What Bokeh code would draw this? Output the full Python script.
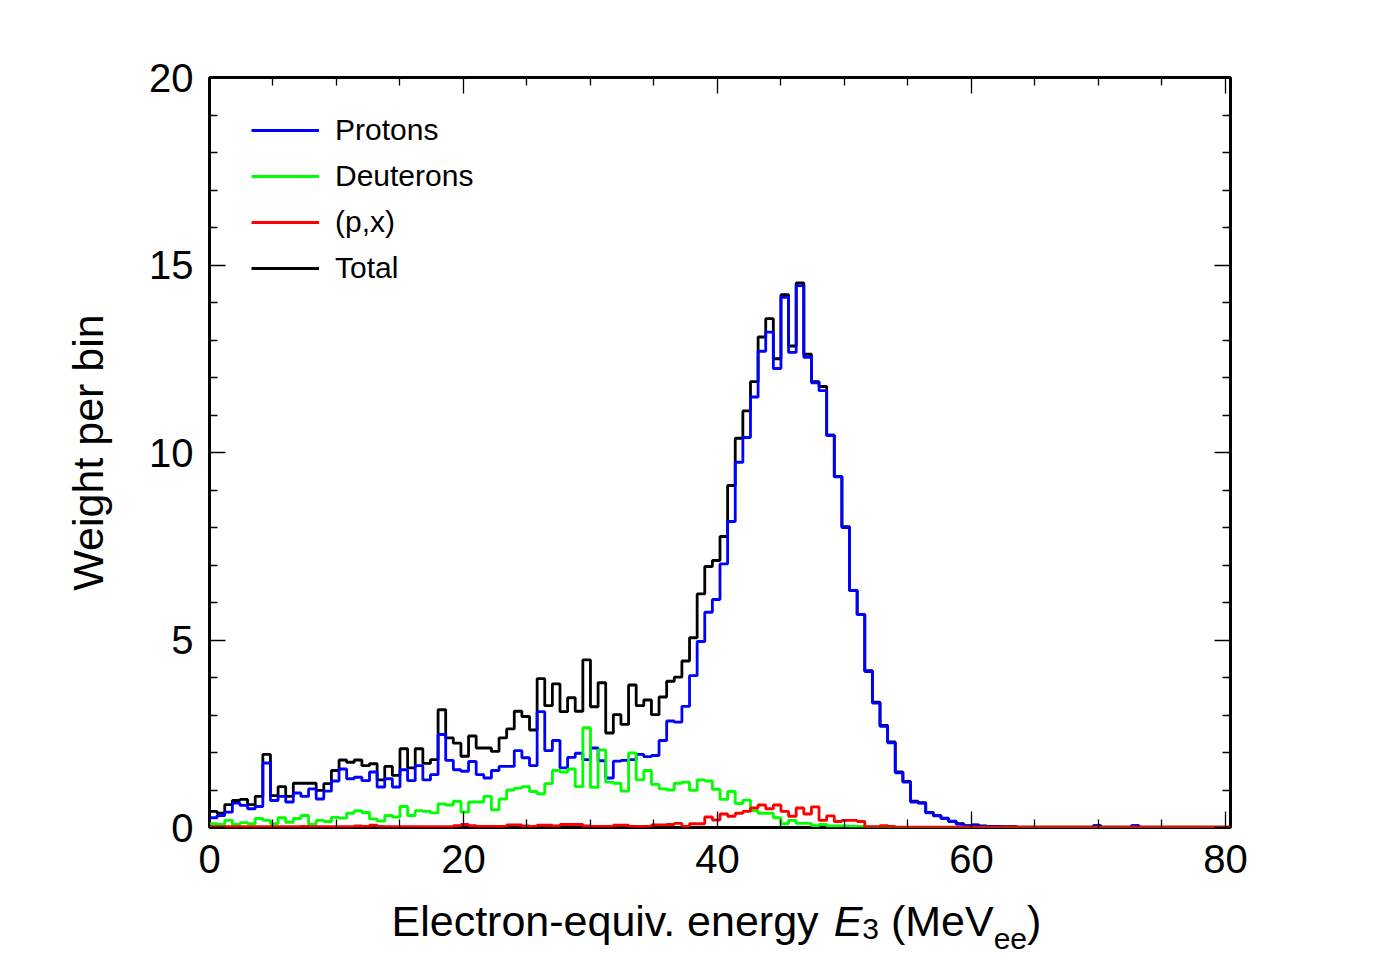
from bokeh.plotting import figure
from bokeh.layouts import column
from bokeh.models import (Range1d, FixedTicker, LinearAxis, Legend, LegendItem, Label)
from bokeh.embed import file_html
from bokeh.resources import INLINE

# ---------------- data (0.6 MeV bins from 0 to 80.4) ----------------
bin_width = 0.6
n_bins = 134
edges = [round(i * bin_width, 4) for i in range(n_bins + 1)]

protons = [
    0.26, 0.32, 0.41, 0.65, 0.59, 0.50, 0.56, 1.72, 0.72, 0.83,
    0.68, 0.92, 0.83, 1.03, 0.76, 0.97, 1.24, 1.56, 1.30, 1.34,
    1.25, 1.48, 1.08, 1.30, 1.08, 1.54, 1.25, 1.65, 1.27, 1.41,
    2.48, 1.79, 1.54, 1.50, 1.76, 1.41, 1.32, 1.52, 1.63, 1.63,
    2.05, 1.86, 1.65, 3.09, 2.05, 2.32, 1.59, 1.87, 1.98, 1.81,
    2.12, 1.78, 1.32, 1.77, 1.79, 1.81, 1.95, 1.89, 1.92, 2.32,
    2.84, 2.81, 3.23, 4.05, 4.96, 5.74, 6.08, 7.03, 8.16, 9.74,
    10.40, 11.48, 12.70, 13.21, 12.24, 14.14, 12.67, 14.45, 12.54, 11.86,
    11.65, 10.46, 9.35, 8.00, 6.32, 5.68, 4.16, 3.32, 2.70, 2.26,
    1.46, 1.21, 0.68, 0.65, 0.39, 0.31, 0.24, 0.16, 0.09, 0.04,
    0.06, 0.03, 0.02, 0.02, 0.01, 0.01, 0.00, 0.00, 0.00, 0.00,
    0.00, 0.00, 0.00, 0.00, 0.00, 0.00, 0.04, 0.00, 0.00, 0.00,
    0.00, 0.04, 0.00, 0.00, 0.00, 0.00, 0.00, 0.00, 0.00, 0.00,
    0.00, 0.00, 0.00, 0.00,
]

deuterons = [
    0.10, 0.08, 0.19, 0.08, 0.13, 0.10, 0.24, 0.19, 0.10, 0.26,
    0.14, 0.24, 0.32, 0.08, 0.19, 0.16, 0.27, 0.25, 0.38, 0.45,
    0.40, 0.23, 0.17, 0.32, 0.28, 0.56, 0.32, 0.45, 0.43, 0.39,
    0.63, 0.60, 0.70, 0.41, 0.68, 0.68, 0.83, 0.47, 0.76, 1.00,
    1.05, 1.09, 0.96, 0.90, 1.17, 1.52, 1.48, 1.56, 1.09, 2.66,
    1.07, 2.07, 1.21, 1.18, 0.97, 1.99, 1.27, 1.52, 1.15, 1.03,
    1.00, 1.18, 1.21, 0.99, 1.27, 1.24, 1.02, 0.75, 0.96, 0.64,
    0.73, 0.45, 0.38, 0.38, 0.26, 0.10, 0.19, 0.11, 0.11, 0.05,
    0.08, 0.04, 0.04, 0.04, 0.03, 0.03, 0.01, 0.01, 0.02, 0.00,
    0.00, 0.00, 0.00, 0.00, 0.00, 0.00, 0.00, 0.00, 0.00, 0.00,
    0.00, 0.00, 0.00, 0.00, 0.00, 0.00, 0.00, 0.00, 0.00, 0.00,
    0.00, 0.00, 0.00, 0.00, 0.00, 0.00, 0.00, 0.00, 0.00, 0.00,
    0.00, 0.00, 0.00, 0.00, 0.00, 0.00, 0.00, 0.00, 0.00, 0.00,
    0.00, 0.00, 0.00, 0.00,
]

px_reaction = [
    0.02, 0.02, 0.02, 0.02, 0.02, 0.02, 0.02, 0.02, 0.02, 0.02,
    0.02, 0.02, 0.03, 0.02, 0.02, 0.02, 0.02, 0.02, 0.02, 0.04,
    0.03, 0.06, 0.03, 0.02, 0.02, 0.02, 0.02, 0.02, 0.02, 0.02,
    0.02, 0.02, 0.05, 0.08, 0.05, 0.03, 0.03, 0.03, 0.03, 0.07,
    0.07, 0.04, 0.03, 0.06, 0.06, 0.04, 0.08, 0.08, 0.08, 0.04,
    0.03, 0.03, 0.03, 0.06, 0.06, 0.03, 0.03, 0.03, 0.07, 0.07,
    0.08, 0.11, 0.03, 0.10, 0.10, 0.28, 0.20, 0.36, 0.30, 0.38,
    0.43, 0.52, 0.60, 0.50, 0.60, 0.43, 0.30, 0.52, 0.36, 0.55,
    0.19, 0.31, 0.16, 0.19, 0.19, 0.16, 0.02, 0.02, 0.05, 0.03,
    0.01, 0.01, 0.01, 0.01, 0.01, 0.01, 0.01, 0.01, 0.01, 0.01,
    0.01, 0.01, 0.01, 0.01, 0.01, 0.01, 0.01, 0.01, 0.01, 0.01,
    0.01, 0.01, 0.01, 0.01, 0.01, 0.01, 0.01, 0.01, 0.01, 0.01,
    0.01, 0.01, 0.01, 0.01, 0.01, 0.01, 0.01, 0.01, 0.01, 0.01,
    0.01, 0.01, 0.01, 0.01,
]

total = [
    0.43, 0.38, 0.61, 0.72, 0.75, 0.61, 0.83, 1.95, 0.85, 1.09,
    0.83, 1.18, 1.18, 1.18, 0.99, 1.17, 1.52, 1.80, 1.74, 1.80,
    1.65, 1.70, 1.27, 1.63, 1.39, 2.10, 1.59, 2.10, 1.71, 1.81,
    3.14, 2.39, 2.25, 1.90, 2.44, 2.12, 2.12, 2.03, 2.39, 2.63,
    3.10, 2.96, 2.60, 3.97, 3.25, 3.83, 3.09, 3.46, 3.10, 4.47,
    3.22, 3.86, 2.52, 3.01, 2.75, 3.80, 3.25, 3.40, 3.01, 3.48,
    3.90, 4.01, 4.44, 5.06, 6.23, 6.96, 7.12, 7.76, 9.12, 10.38,
    11.11, 11.89, 13.08, 13.57, 12.50, 14.21, 12.84, 14.52, 12.62, 11.89,
    11.76, 10.46, 9.36, 8.02, 6.32, 5.68, 4.18, 3.34, 2.72, 2.28,
    1.48, 1.23, 0.70, 0.66, 0.40, 0.32, 0.25, 0.17, 0.10, 0.05,
    0.07, 0.04, 0.03, 0.03, 0.02, 0.02, 0.01, 0.01, 0.01, 0.01,
    0.01, 0.01, 0.01, 0.01, 0.01, 0.01, 0.05, 0.01, 0.01, 0.01,
    0.01, 0.05, 0.01, 0.01, 0.01, 0.01, 0.01, 0.01, 0.01, 0.01,
    0.01, 0.01, 0.01, 0.01,
]

series_names = ["Protons", "Deuterons", "(p,x)", "Total"]
x_ticks = [0, 20, 40, 60, 80]
y_ticks = [0, 5, 10, 15, 20]

# ---------------- figure ----------------
X_MAX = edges[-1]
Y_MAX = 20
FONT = "Liberation Sans"
W = 1390
B_LEFT, B_RIGHT, B_TOP, B_BOTTOM = 209, 160, 77, 63
FRAME_W = W - B_LEFT - B_RIGHT      # 1021
FRAME_H = 750
H_MAIN = B_TOP + FRAME_H + B_BOTTOM  # 890
H_XLAB = 80

p = figure(width=W, height=H_MAIN, output_backend="svg", toolbar_location=None,
           x_range=Range1d(0, X_MAX), y_range=Range1d(0, Y_MAX),
           min_border_left=B_LEFT, min_border_right=B_RIGHT,
           min_border_top=B_TOP, min_border_bottom=B_BOTTOM)
p.background_fill_color = "white"
p.border_fill_color = "white"
p.grid.visible = False
p.outline_line_color = "black"
p.outline_line_width = 3

xt = FixedTicker(ticks=x_ticks, minor_ticks=[v for v in range(0, 81, 5) if v % 20])
yt = FixedTicker(ticks=y_ticks, minor_ticks=[v for v in range(0, 21) if v % 5])


def style_axis(ax, ticker, labels=True):
    ax.ticker = ticker
    ax.axis_line_color = None
    ax.major_tick_in = 16
    ax.major_tick_out = 0
    ax.minor_tick_in = 8
    ax.minor_tick_out = 0
    ax.major_tick_line_width = 1.3
    ax.minor_tick_line_width = 1.3
    ax.major_tick_line_color = "black"
    ax.minor_tick_line_color = "black"
    ax.major_label_text_font = FONT
    ax.major_label_text_font_size = "40px"
    ax.major_label_text_color = "black"
    if not labels:
        ax.major_label_overrides = {t: "" for t in ticker.ticks}


style_axis(p.xaxis[0], xt)
style_axis(p.yaxis[0], yt)
p.xaxis[0].major_label_standoff = 17
p.yaxis[0].major_label_standoff = 16

yax = p.yaxis[0]
yax.axis_label = "Weight per bin"
yax.axis_label_text_font = FONT
yax.axis_label_text_font_size = "43px"
yax.axis_label_text_font_style = "normal"
yax.axis_label_text_color = "black"
yax.axis_label_standoff = 34

top_ax = LinearAxis()
right_ax = LinearAxis()
style_axis(top_ax, xt, labels=False)
style_axis(right_ax, yt, labels=False)
p.add_layout(top_ax, "above")
p.add_layout(right_ax, "right")

# ---------------- histograms (step outlines) ----------------
def step_y(vals):
    return list(vals) + [vals[-1]]

LW = 2.8
r_tot = p.step(edges, step_y(total), mode="after", line_color="black", line_width=LW)
r_pro = p.step(edges, step_y(protons), mode="after", line_color="#0000ff", line_width=LW)
r_deu = p.step(edges, step_y(deuterons), mode="after", line_color="#00ff00", line_width=LW)
r_px = p.step(edges, step_y(px_reaction), mode="after", line_color="#ff0000", line_width=LW)

# ---------------- legend ----------------
G_H = 38
SPACING = 8
leg_h = 4 * G_H + 3 * SPACING
legend = Legend(
    items=[LegendItem(label=series_names[0], renderers=[r_pro]),
           LegendItem(label=series_names[1], renderers=[r_deu]),
           LegendItem(label=series_names[2], renderers=[r_px]),
           LegendItem(label=series_names[3], renderers=[r_tot])],
    location=(42, FRAME_H - 34 - leg_h),
    glyph_width=68, glyph_height=G_H, spacing=SPACING,
    label_standoff=16, padding=0, margin=0,
    border_line_color=None, background_fill_alpha=0,
    label_text_font=FONT, label_text_font_size="30px", label_text_color="black",
)
p.add_layout(legend)

# ---------------- x-axis title strip (italic symbol and sub-scripts) ----------------
p2 = figure(width=W, height=H_XLAB, output_backend="svg", toolbar_location=None,
            x_range=p.x_range, y_range=Range1d(0, H_XLAB),
            x_axis_type=None, y_axis_type=None,
            min_border_left=B_LEFT, min_border_right=B_RIGHT,
            min_border_top=0, min_border_bottom=0)
p2.outline_line_color = None
p2.grid.visible = False
p2.background_fill_color = "white"
p2.border_fill_color = "white"

PX_X = FRAME_W / X_MAX


def add_text(txt, px, py, size, style="normal"):
    p2.add_layout(Label(x=(px - B_LEFT) / PX_X, y=H_XLAB - (py - H_MAIN), text=txt,
                        text_font=FONT, text_font_size=f"{size}px", text_font_style=style,
                        text_color="black", text_align="left", text_baseline="alphabetic"))

MAIN = 43
SUB = 30
x0 = 391.0
add_text("Electron-equiv. energy", x0, 920, MAIN)
x1 = x0 + (10.004 + 0.278) * MAIN
add_text("E", x1, 920, MAIN, style="italic")
x2 = x1 + 0.667 * MAIN
add_text("3", x2, 928, SUB)
x3 = x2 + 0.556 * SUB + 0.278 * MAIN
add_text("(MeV", x3, 920, MAIN)
x4 = x3 + 2.389 * MAIN
add_text("ee", x4, 938, SUB)
x5 = x4 + 1.112 * SUB
add_text(")", x5, 920, MAIN)

layout = column(p, p2, spacing=0)
open("out.html", "w").write(file_html(layout, INLINE))
